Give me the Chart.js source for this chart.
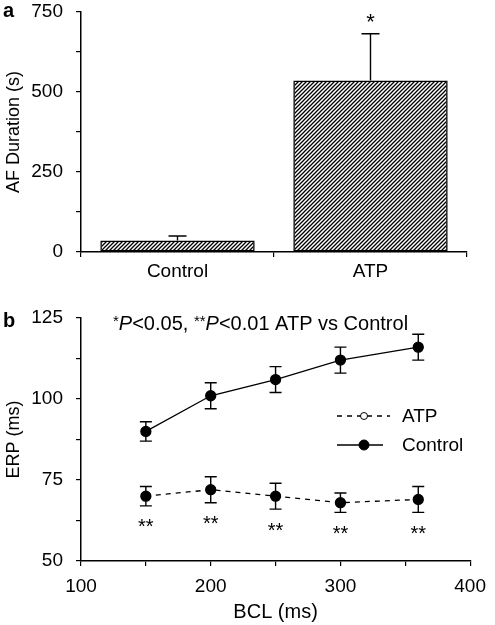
<!DOCTYPE html>
<html>
<head>
<meta charset="utf-8">
<script src="https://cdn.jsdelivr.net/npm/chart.js@4.4.0/dist/chart.umd.min.js"></script>
<style>
  body { margin: 0; background: #fff; }
  canvas { position: absolute; left: 0; }
</style>
</head>
<body>
<canvas id="chart-a" width="495" height="290" style="top:0"></canvas>
<canvas id="chart-b" width="495" height="335" style="top:290px"></canvas>
<script>
const FONT = "'Liberation Sans', Arial, Helvetica, sans-serif";

// Panel a: AF duration
const groups = ["Control", "ATP"];
const afDuration = [36, 536];
const afError = [14, 146];
const afTicks = [0, 250, 500, 750];

// Panel b: ERP vs BCL
const bcl = [150, 200, 250, 300, 360];
const erpAtp = [70, 72, 70, 68, 69];
const erpAtpErr = [3, 4, 4, 3, 4];
const erpControl = [90, 101, 106, 112, 116];
const erpControlErr = [3, 4, 4, 4, 4];
const bclTicks = [100, 200, 300, 400];
const erpTicks = [50, 75, 100, 125];

// diagonal hatch for the bars
const makeHatch = () => {
    const c = document.createElement("canvas");
    c.width = 4;
    c.height = 4;
    const g = c.getContext("2d");
    g.strokeStyle = "#000";
    g.lineWidth = 1.3;
    g.beginPath();
    g.moveTo(-1, 5); g.lineTo(5, -1);
    g.moveTo(-1, 1); g.lineTo(1, -1);
    g.moveTo(3, 5); g.lineTo(5, 3);
    g.stroke();
    return g.createPattern(c, "repeat");
};

const panelLabel = (letter, baseline) => ({
    id: "panel-" + letter,
    afterDraw(chart) {
        const ctx = chart.ctx;
        ctx.save();
        ctx.fillStyle = "#000";
        ctx.font = "bold 20px " + FONT;
        ctx.textBaseline = "alphabetic";
        ctx.fillText(letter, 3, baseline);
        ctx.restore();
    }
});

const axisCommon = (extra) => Object.assign({
    grid: { drawOnChartArea: false, drawTicks: true, tickLength: 5, color: "#000", lineWidth: 1.2 },
    border: { color: "#000", width: 1.5 },
}, extra);

const tickFont = { family: FONT, size: 19 };

// fixed y axis width, and no extra room for the end labels
const fixYAxis = (s) => {
    s.width = 81;
    s.paddingTop = 0;
    s.paddingBottom = 0;
};

// error bars (upward only) + significance mark for panel a
const barErrors = {
    id: "bar-errors",
    afterDatasetsDraw(chart) {
        const ctx = chart.ctx;
        const y = chart.scales.y;
        const meta = chart.getDatasetMeta(0);
        ctx.save();
        ctx.strokeStyle = "#000";
        ctx.lineWidth = 1.4;
        meta.data.forEach((bar, i) => {
            const top = y.getPixelForValue(afDuration[i] + afError[i]);
            const base = y.getPixelForValue(afDuration[i]);
            ctx.beginPath();
            ctx.moveTo(bar.x, base);
            ctx.lineTo(bar.x, top);
            ctx.moveTo(bar.x - 9, top);
            ctx.lineTo(bar.x + 9, top);
            ctx.stroke();
        });
        const atp = meta.data[1];
        ctx.fillStyle = "#000";
        ctx.font = "22px " + FONT;
        ctx.textAlign = "center";
        ctx.textBaseline = "middle";
        ctx.fillText("*", atp.x, y.getPixelForValue(afDuration[1] + afError[1]) - 11);
        ctx.restore();
    }
};

new Chart(document.getElementById("chart-a"), {
    type: "bar",
    data: {
        labels: groups,
        datasets: [{
            data: afDuration,
            backgroundColor: makeHatch(),
            borderColor: "#000",
            borderWidth: 1.5,
            borderSkipped: false,
            categoryPercentage: 0.8,
            barPercentage: 1,
        }],
    },
    options: {
        responsive: false,
        animation: false,
        layout: { padding: { top: 12, right: 28, left: 0, bottom: 0 } },
        plugins: { legend: { display: false }, tooltip: { enabled: false } },
        scales: {
            x: axisCommon({
                grid: { drawOnChartArea: false, tickLength: 5, color: "#000", lineWidth: 1.2, offset: true },
                ticks: { color: "#000", font: tickFont, padding: 3 },
                afterFit: (s) => { s.height = 38; },
            }),
            y: axisCommon({
                min: 0,
                max: 750,
                ticks: {
                    stepSize: 125,
                    color: "#000",
                    font: tickFont,
                    padding: 13,
                    callback: (v) => (afTicks.includes(v) ? v : ""),
                },
                title: { display: true, text: "AF Duration (s)", color: "#000", font: { family: FONT, size: 18 }, padding: 3 },
                afterFit: fixYAxis,
            }),
        },
    },
    plugins: [barErrors, panelLabel("a", 17)],
});

// error bars, significance marks, header text and legend for panel b
const linePlotExtras = {
    id: "line-extras",
    afterDatasetsDraw(chart) {
        const ctx = chart.ctx;
        const xs = chart.scales.x;
        const ys = chart.scales.y;
        ctx.save();
        ctx.strokeStyle = "#000";
        ctx.lineWidth = 1.4;
        const drawErr = (vals, errs) => {
            vals.forEach((v, i) => {
                const px = xs.getPixelForValue(bcl[i]);
                const hi = ys.getPixelForValue(v + errs[i]);
                const lo = ys.getPixelForValue(v - errs[i]);
                ctx.beginPath();
                ctx.moveTo(px, lo);
                ctx.lineTo(px, hi);
                ctx.moveTo(px - 6, hi);
                ctx.lineTo(px + 6, hi);
                ctx.moveTo(px - 6, lo);
                ctx.lineTo(px + 6, lo);
                ctx.stroke();
            });
        };
        drawErr(erpAtp, erpAtpErr);
        drawErr(erpControl, erpControlErr);

        ctx.fillStyle = "#000";
        ctx.textAlign = "center";
        ctx.textBaseline = "middle";
        ctx.font = "20px " + FONT;
        erpAtp.forEach((v, i) => {
            const px = xs.getPixelForValue(bcl[i]);
            const lo = ys.getPixelForValue(v - erpAtpErr[i]);
            ctx.fillText("**", px, lo + 22);
        });
        ctx.restore();
    },
    afterDraw(chart) {
        const ctx = chart.ctx;
        ctx.save();
        ctx.fillStyle = "#000";
        ctx.strokeStyle = "#000";
        ctx.textBaseline = "alphabetic";
        ctx.textAlign = "left";

        // header: *P<0.05, **P<0.01 ATP vs Control
        const pieces = [
            ["*", "15px", -4],
            ["P", "italic 20px", 0],
            ["<0.05, ", "20px", 0],
            ["**", "15px", -4],
            ["P", "italic 20px", 0],
            ["<0.01 ATP vs Control", "20px", 0],
        ];
        let x = 113;
        pieces.forEach(([txt, f, dy]) => {
            ctx.font = f + " " + FONT;
            ctx.fillText(txt, x, 40 + dy);
            x += ctx.measureText(txt).width;
        });

        // legend
        const rows = [
            { label: "ATP", y: 126, dash: [5, 5], x2: 390, r: 3.5, fill: false },
            { label: "Control", y: 155, dash: [], x2: 383, r: 5, fill: true },
        ];
        rows.forEach((row) => {
            ctx.lineWidth = 1.3;
            ctx.setLineDash(row.dash);
            ctx.beginPath();
            ctx.moveTo(337, row.y);
            ctx.lineTo(row.x2, row.y);
            ctx.stroke();
            ctx.setLineDash([]);
            ctx.beginPath();
            ctx.arc(364, row.y, row.r, 0, Math.PI * 2);
            ctx.fillStyle = row.fill ? "#000" : "#fff";
            ctx.fill();
            ctx.lineWidth = 1;
            ctx.stroke();
            ctx.fillStyle = "#000";
            ctx.font = "19px " + FONT;
            ctx.textBaseline = "middle";
            ctx.fillText(row.label, 402, row.y + 1);
        });
        ctx.restore();
    }
};

const toPoints = (ys) => bcl.map((x, i) => ({ x, y: ys[i] }));

new Chart(document.getElementById("chart-b"), {
    type: "line",
    data: {
        datasets: [
            {
                label: "ATP",
                data: toPoints(erpAtp),
                borderColor: "#000",
                borderWidth: 1.3,
                borderDash: [5, 5],
                pointRadius: 5,
                pointBackgroundColor: "#000",
                pointBorderColor: "#000",
                fill: false,
                tension: 0,
            },
            {
                label: "Control",
                data: toPoints(erpControl),
                borderColor: "#000",
                borderWidth: 1.3,
                pointRadius: 5,
                pointBackgroundColor: "#000",
                pointBorderColor: "#000",
                fill: false,
                tension: 0,
            },
        ],
    },
    options: {
        responsive: false,
        animation: false,
        layout: { padding: { top: 28, right: 17, left: 0, bottom: 0 } },
        plugins: { legend: { display: false }, tooltip: { enabled: false } },
        scales: {
            x: axisCommon({
                type: "linear",
                min: 100,
                max: 400,
                ticks: {
                    stepSize: 50,
                    color: "#000",
                    font: tickFont,
                    padding: 9,
                    maxRotation: 0,
                    callback: (v) => (bclTicks.includes(v) ? v : ""),
                },
                title: { display: true, text: "BCL (ms)", color: "#000", font: { family: FONT, size: 20 }, padding: { top: 4, bottom: 1 } },
                afterFit: (s) => { s.height = 64; },
            }),
            y: axisCommon({
                min: 50,
                max: 125,
                ticks: {
                    stepSize: 12.5,
                    color: "#000",
                    font: tickFont,
                    padding: 13,
                    callback: (v) => (erpTicks.includes(v) ? v : ""),
                },
                title: { display: true, text: "ERP (ms)", color: "#000", font: { family: FONT, size: 18 }, padding: 3 },
                afterFit: fixYAxis,
            }),
        },
    },
    plugins: [linePlotExtras, panelLabel("b", 37)],
});
</script>
</body>
</html>
